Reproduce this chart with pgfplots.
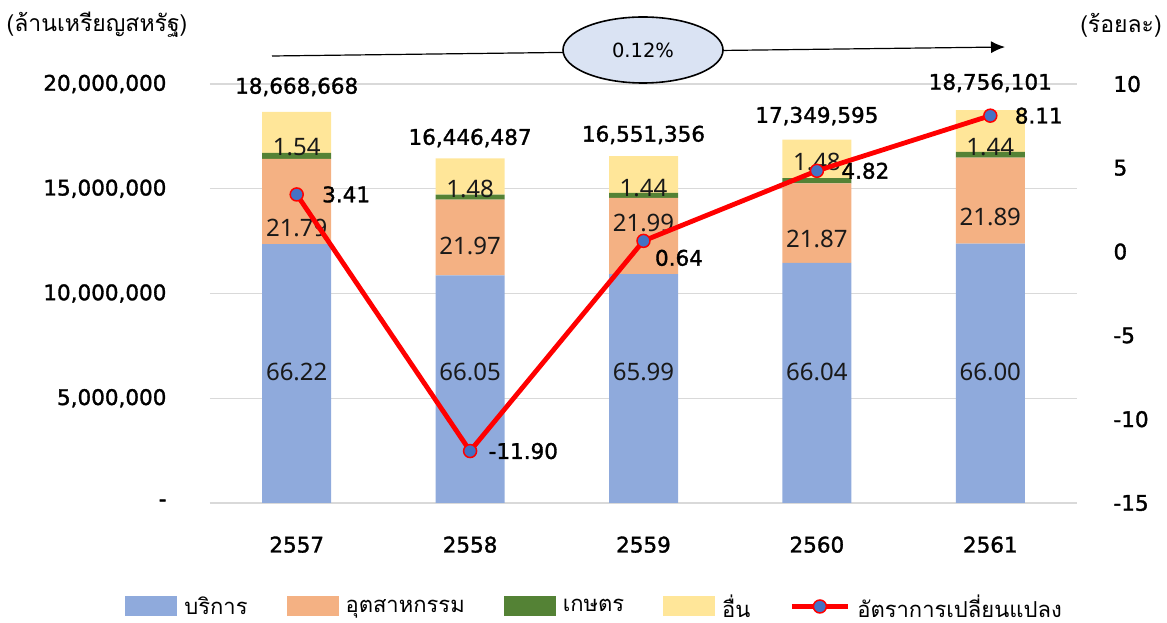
\documentclass[border=0pt]{standalone}
\usepackage{pgfplots}
\pgfplotsset{compat=1.18}
\usetikzlibrary{arrows.meta}
\usepackage{fontspec}
\setmainfont{DejaVu Sans}
\newfontfamily\thai[Script=Thai]{Loma}
\newfontfamily\numb[FakeBold=1.5]{DejaVu Sans}
\newfontfamily\numr{Noto Sans}
\definecolor{cblue}{HTML}{8FAADC}
\definecolor{corange}{HTML}{F4B183}
\definecolor{cgreen}{HTML}{548235}
\definecolor{cyellow}{HTML}{FFE699}
\definecolor{mblue}{HTML}{4472C4}
\definecolor{ellfill}{HTML}{DAE3F3}
\definecolor{gridc}{HTML}{D9D9D9}
\tikzset{
  seglab/.style={font=\numr\fontsize{24}{28}\selectfont, text=black!90},
  totlab/.style={font=\numb\fontsize{21.5}{24}\selectfont},
  linlab/.style={font=\numb\fontsize{21.5}{24}\selectfont, anchor=west},
}
\pgfplotsset{
  bigsq/.style={legend image code/.code={\fill[##1, draw=none] (0pt,-10pt) rectangle (52pt,10pt);}},
  bigline/.style={legend image code/.code={\draw[mark repeat=2,mark phase=2,##1] plot coordinates {(0pt,0pt) (28pt,0pt) (56pt,0pt)};}},
}
\begin{document}
\begin{tikzpicture}
\path[use as bounding box] (-210pt,-120pt) rectangle (957pt,503pt);
\begin{axis}[
  scale only axis, width=867pt, height=419pt,
  ybar stacked, bar width=69pt,
  xmin=-0.5, xmax=4.5, ymin=0, ymax=20000000,
  xtick={0,1,2,3,4}, xticklabels={2557,2558,2559,2560,2561},
  ytick={0,5000000,10000000,15000000,20000000},
  yticklabels={{-},{5,000,000},{10,000,000},{15,000,000},{20,000,000}},
  scaled y ticks=false,
  ymajorgrids, grid style={color=gridc, line width=1.3pt},
  axis line style={draw=none}, major tick length=0pt,
  tick label style={font=\numb\fontsize{21.5}{24}\selectfont},
  yticklabel style={anchor=east, xshift=-40pt},
  xticklabel style={anchor=north, yshift=-30pt},
  clip=false,
]
\addplot[fill=cblue, draw=none] coordinates {(0,12362392) (1,10862905) (2,10922240) (3,11457673) (4,12379027)};
\addplot[fill=corange, draw=none] coordinates {(0,4067903) (1,3613293) (2,3639643) (3,3794356) (4,4105711)};
\addplot[fill=cgreen, draw=none] coordinates {(0,287498) (1,243408) (2,238340) (3,256774) (4,270088)};
\addplot[fill=cyellow, draw=none] coordinates {(0,1950875) (1,1726881) (2,1751133) (3,1840792) (4,2001275)};
\node[totlab] at (axis cs:0,19860000) {18,668,668};
\node[totlab] at (axis cs:1,17420000) {16,446,487};
\node[totlab] at (axis cs:2,17570000) {16,551,356};
\node[totlab] at (axis cs:3,18470000) {17,349,595};
\node[totlab] at (axis cs:4,20050000) {18,756,101};
\end{axis}
\begin{axis}[
  scale only axis, width=867pt, height=419pt,
  xmin=-0.5, xmax=4.5, ymin=-15, ymax=10,
  axis y line*=right, axis x line=none,
  ytick={-15,-10,-5,0,5,10},
  yticklabels={{-15},{-10},{-5},{0},{5},{10}},
  axis line style={draw=none}, major tick length=0pt,
  tick label style={font=\numb\fontsize{21.5}{24}\selectfont},
  yticklabel style={anchor=west, xshift=33pt},
  clip=false,
  legend columns=5,
  legend style={at={(axis description cs:0.4435,-0.247)}, anchor=center, draw=none, fill=none,
    font=\thai\fontsize{22}{26}\selectfont,
    /tikz/every odd column/.append style={column sep=5pt},
    /tikz/every even column/.append style={column sep=37pt},
    legend cell align=left, inner sep=0pt},
]
\addlegendimage{bigsq, fill=cblue}
\addlegendentry{บริการ}
\addlegendimage{bigsq, fill=corange}
\addlegendentry{อุตสาหกรรม}
\addlegendimage{bigsq, fill=cgreen}
\addlegendentry{เกษตร}
\addlegendimage{bigsq, fill=cyellow}
\addlegendentry{อื่น}
% segment share labels (placed on the right-axis scale)
\node[seglab] at (axis cs:0,-7.1875) {66.22};
\node[seglab] at (axis cs:1,-7.1875) {66.05};
\node[seglab] at (axis cs:2,-7.1875) {65.99};
\node[seglab] at (axis cs:3,-7.1875) {66.04};
\node[seglab] at (axis cs:4,-7.1875) {66.00};
\node[seglab] at (axis cs:0,1.4125) {21.79};
\node[seglab] at (axis cs:1,0.3375) {21.97};
\node[seglab] at (axis cs:2,1.7125) {21.99};
\node[seglab] at (axis cs:3,0.75) {21.87};
\node[seglab] at (axis cs:4,2.0625) {21.89};
\node[seglab] at (axis cs:0,6.2375) {1.54};
\node[seglab] at (axis cs:1,3.7375) {1.48};
\node[seglab] at (axis cs:2,3.80) {1.44};
\node[seglab] at (axis cs:3,5.35) {1.48};
\node[seglab] at (axis cs:4,6.2375) {1.44};
\addplot[bigline, color=red, line width=4.8pt, mark=*, mark size=6.5pt,
  mark options={fill=mblue, draw=red, line width=1.5pt}]
  coordinates {(0,3.41) (1,-11.90) (2,0.64) (3,4.82) (4,8.11)};
\addlegendentry{อัตราการเปลี่ยนแปลง}
\node[linlab] at (axis cs:0,3.41) [xshift=22pt] {3.41};
\node[linlab] at (axis cs:1,-11.90) [xshift=15pt] {-11.90};
\node[linlab] at (axis cs:2,0.64) [xshift=8pt, yshift=-17pt] {0.64};
\node[linlab] at (axis cs:3,4.82) [xshift=21pt] {4.82};
\node[linlab] at (axis cs:4,8.11) [xshift=21pt] {8.11};
\end{axis}
\draw[line width=1.2pt, -{Latex[length=14pt,width=12pt]}] (62pt,447pt) -- (795pt,456pt);
\draw[line width=1.6pt, fill=ellfill] (433pt,453pt) ellipse [x radius=80pt, y radius=33pt];
\node[font=\fontsize{19.5}{22}\selectfont] at (433pt,453pt) {0.12\%};
\node[font=\thai\fontsize{23}{27}\selectfont] at (-113pt,478pt) {(ล้านเหรียญสหรัฐ)};
\node[font=\thai\fontsize{23}{27}\selectfont] at (911pt,478pt) {(ร้อยละ)};
\end{tikzpicture}
\end{document}
